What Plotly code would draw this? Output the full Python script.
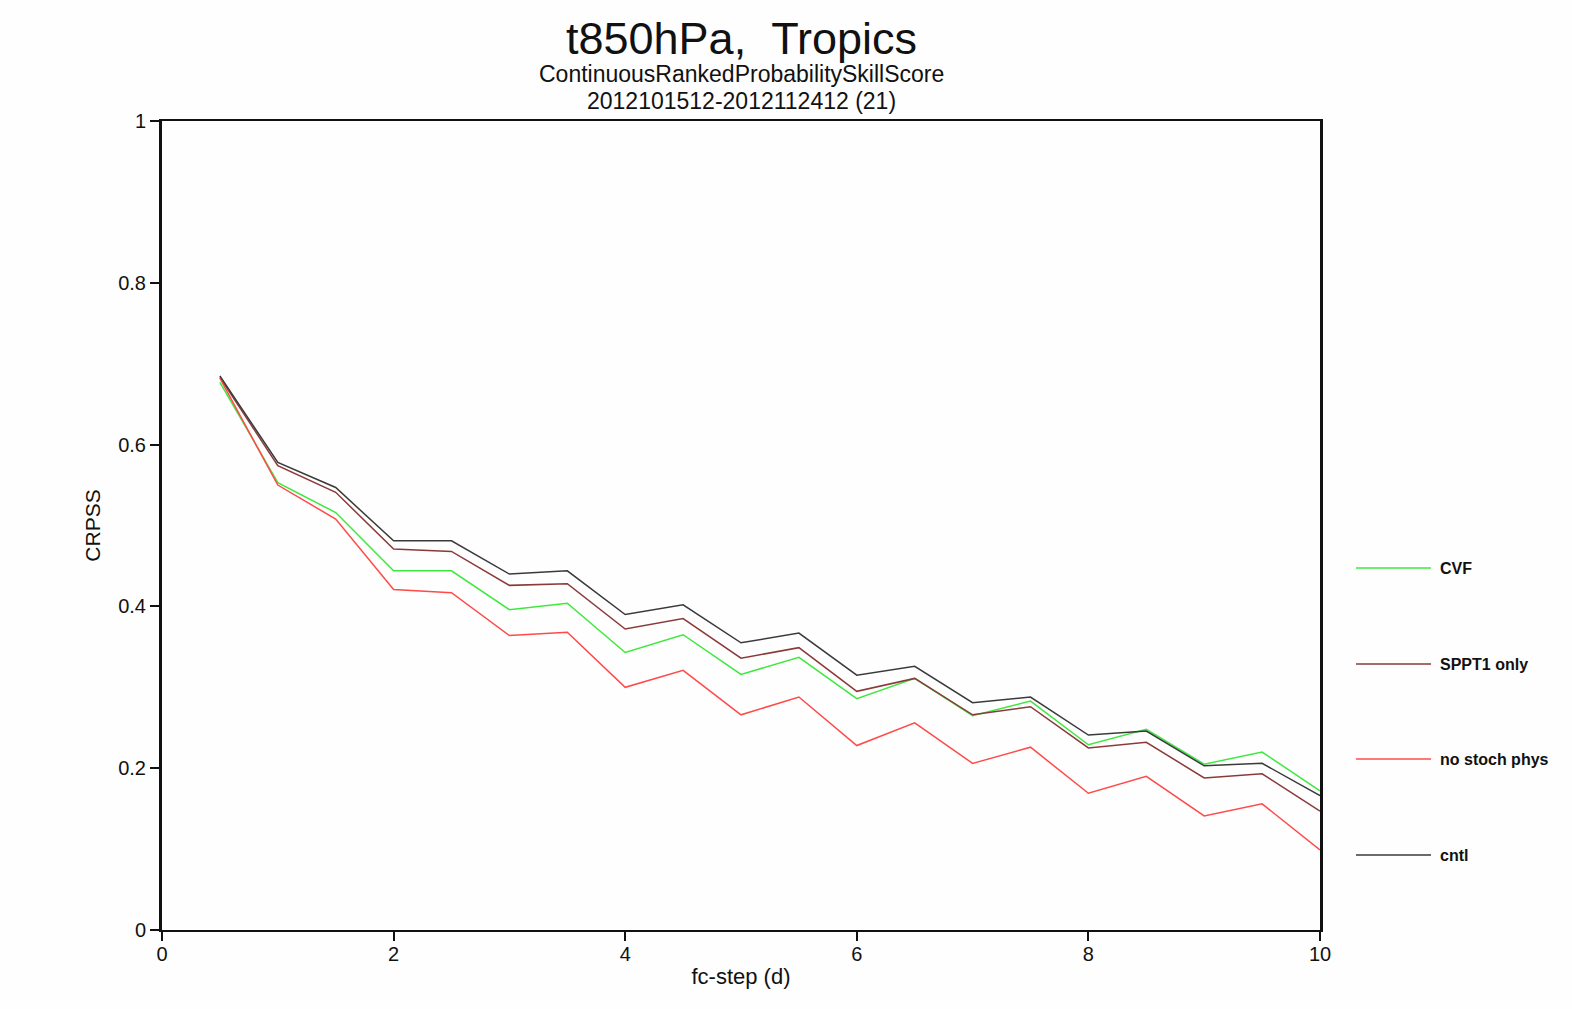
import plotly.graph_objects as go

steps = [0.5, 1.0, 1.5, 2.0, 2.5, 3.0, 3.5, 4.0, 4.5, 5.0,
         5.5, 6.0, 6.5, 7.0, 7.5, 8.0, 8.5, 9.0, 9.5, 10.0]

cvf = [0.677, 0.553, 0.516, 0.444, 0.444, 0.396, 0.404, 0.343, 0.365, 0.316,
       0.337, 0.286, 0.311, 0.265, 0.283, 0.229, 0.248, 0.205, 0.220, 0.172]
sppt1 = [0.683, 0.574, 0.541, 0.471, 0.468, 0.426, 0.428, 0.372, 0.385, 0.336,
         0.349, 0.295, 0.311, 0.266, 0.276, 0.225, 0.232, 0.188, 0.193, 0.147]
nostoch = [0.682, 0.550, 0.508, 0.421, 0.417, 0.364, 0.368, 0.300, 0.321, 0.266,
           0.288, 0.228, 0.256, 0.206, 0.226, 0.169, 0.190, 0.141, 0.156, 0.099]
cntl = [0.685, 0.578, 0.547, 0.481, 0.481, 0.440, 0.444, 0.390, 0.402, 0.355,
        0.367, 0.315, 0.326, 0.281, 0.288, 0.241, 0.246, 0.203, 0.206, 0.166]

series_names = ["CVF", "SPPT1 only", "no stoch phys", "cntl"]
series_values = [cvf, sppt1, nostoch, cntl]
series_colors = ["#3ee83e", "#8b3a3a", "#ff4a4a", "#3a3a3a"]

x_ticks = [0, 2, 4, 6, 8, 10]
y_ticks = [0, 0.2, 0.4, 0.6, 0.8, 1]
y_tick_labels = ["0", "0.2", "0.4", "0.6", "0.8", "1"]

FONT = "Liberation Sans, Arial, Helvetica, sans-serif"

fig = go.Figure()
for name, vals, col in zip(series_names, series_values, series_colors):
    fig.add_trace(go.Scatter(x=steps, y=vals, mode="lines", name=name,
                             line=dict(color=col, width=1.5), showlegend=False))

W, H = 1572, 1009
L, R, T, B = 162, 252, 121, 79
pw = W - L - R
ph = H - T - B

def px_x(p):
    return (p - L) / pw

def px_y(p):
    return (H - B - p) / ph

annotations = [
    dict(text="t850hPa,\u00a0\u00a0Tropics", x=0.5, xref="paper", y=px_y(38), yref="paper",
         showarrow=False, font=dict(size=45, family=FONT, color="#111"), xanchor="center", yanchor="middle"),
    dict(text="ContinuousRankedProbabilitySkillScore", x=0.5, xref="paper", y=px_y(74), yref="paper",
         showarrow=False, font=dict(size=23, family=FONT, color="#111"), xanchor="center", yanchor="middle"),
    dict(text="2012101512-2012112412 (21)", x=0.5, xref="paper", y=px_y(101), yref="paper",
         showarrow=False, font=dict(size=23, family=FONT, color="#111"), xanchor="center", yanchor="middle"),
]

shapes = []
leg_y = [568, 664, 759, 855]
for name, col, yy in zip(series_names, series_colors, leg_y):
    shapes.append(dict(type="line", xref="paper", yref="paper",
                       x0=px_x(1356), x1=px_x(1431), y0=px_y(yy), y1=px_y(yy),
                       line=dict(color=col, width=1.5)))
    annotations.append(dict(text="<b>" + name + "</b>", x=px_x(1438), xref="paper", y=px_y(yy), yref="paper",
                            showarrow=False, xanchor="left", yanchor="middle",
                            font=dict(size=16, family=FONT, color="#111")))

fig.update_layout(
    width=W, height=H,
    margin=dict(l=L, r=R, t=T, b=B, pad=0),
    paper_bgcolor="#fdfefd", plot_bgcolor="#fdfefd",
    font=dict(family=FONT, color="#111"),
    annotations=annotations,
    shapes=shapes,
    xaxis=dict(range=[0, 10], tickvals=x_ticks, ticktext=[str(v) for v in x_ticks],
               ticks="outside", ticklen=9, tickwidth=2, tickcolor="#111",
               showline=True, linecolor="#111", linewidth=1.5, mirror=True,
               showgrid=False, zeroline=False, tickfont=dict(size=20, family=FONT),
               ticklabelstandoff=-4,
               title=dict(text="fc-step (d)", font=dict(size=22, family=FONT), standoff=5)),
    yaxis=dict(range=[0, 1], tickvals=y_ticks, ticktext=y_tick_labels,
               ticks="outside", ticklen=9, tickwidth=1.5, tickcolor="#111",
               showline=True, linecolor="#111", linewidth=3, mirror=True,
               showgrid=False, zeroline=False, tickfont=dict(size=20, family=FONT),
               title=dict(text="CRPSS", font=dict(size=21, family=FONT), standoff=12)),
)

fig.write_html("out.html")
